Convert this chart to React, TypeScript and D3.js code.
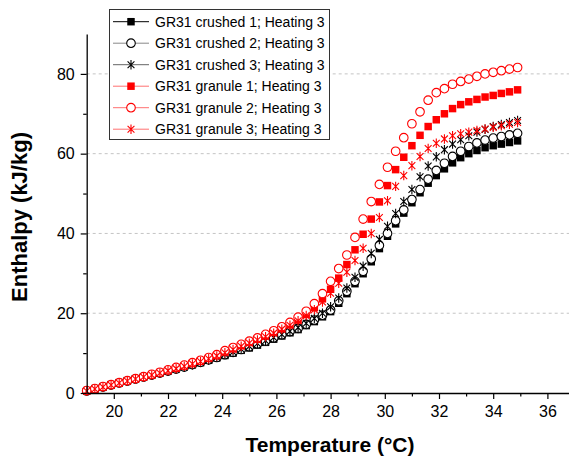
import React, { useEffect, useRef } from "react";
import * as d3 from "d3";

// temperature grid (°C), shared by all six runs
const temps = [
  19.0, 19.3, 19.6, 19.9, 20.2, 20.5, 20.8, 21.1, 21.4, 21.7,
  22.0, 22.3, 22.6, 22.9, 23.2, 23.5, 23.8, 24.1, 24.4, 24.7,
  25.0, 25.3, 25.6, 25.9, 26.2, 26.5, 26.8, 27.1, 27.4, 27.7,
  28.0, 28.3, 28.6, 28.9, 29.2, 29.5, 29.8, 30.1, 30.4, 30.7,
  31.0, 31.3, 31.6, 31.9, 32.2, 32.5, 32.8, 33.1, 33.4, 33.7,
  34.0, 34.3, 34.6, 34.9,
];

// enthalpy (kJ/kg)
const crushed1 = [
  0.6, 1.1, 1.6, 2.1, 2.6, 3.1, 3.6, 4.1, 4.6, 5.1,
  5.6, 6.1, 6.6, 7.1, 7.6, 8.2, 8.8, 9.4, 10.0, 10.7,
  11.3, 12.0, 12.7, 13.5, 14.3, 15.1, 15.9, 16.9, 17.9, 19.1,
  20.4, 22.5, 24.9, 27.4, 29.9, 32.9, 36.2, 39.3, 42.4, 45.1,
  47.7, 50.2, 52.6, 54.5, 56.2, 57.7, 59.0, 60.0, 60.8, 61.5,
  62.0, 62.4, 62.8, 63.2,
];
const crushed2 = [
  0.5, 1.0, 1.5, 2.0, 2.5, 3.0, 3.5, 4.0, 4.5, 5.0,
  5.5, 6.0, 6.5, 7.1, 7.7, 8.3, 8.9, 9.6, 10.2, 10.9,
  11.6, 12.3, 13.0, 13.8, 14.6, 15.4, 16.2, 17.2, 18.3, 19.5,
  20.8, 23.1, 25.5, 28.0, 30.5, 33.6, 37.0, 40.0, 43.2, 45.9,
  48.5, 51.0, 53.6, 55.8, 57.6, 59.3, 60.6, 61.8, 62.7, 63.4,
  63.9, 64.3, 64.7, 65.1,
];
const crushed3 = [
  0.5, 1.0, 1.5, 2.0, 2.5, 3.0, 3.5, 4.0, 4.5, 5.0,
  5.5, 6.0, 6.6, 7.1, 7.7, 8.3, 9.0, 9.7, 10.3, 11.0,
  11.7, 12.4, 13.1, 13.9, 14.7, 15.5, 16.4, 17.5, 18.7, 20.0,
  21.6, 23.8, 26.3, 29.0, 31.8, 35.0, 38.5, 41.8, 45.0, 48.0,
  51.0, 54.2, 56.9, 59.2, 61.0, 62.4, 63.5, 64.5, 65.4, 66.1,
  66.8, 67.3, 67.8, 68.3,
];
const granule1 = [
  0.5, 1.0, 1.5, 2.0, 2.5, 3.0, 3.5, 4.0, 4.5, 5.1,
  5.6, 6.2, 6.8, 7.4, 8.0, 8.7, 9.4, 10.3, 11.1, 11.9,
  12.7, 13.5, 14.3, 15.2, 16.1, 17.1, 18.3, 19.7, 21.4, 23.6,
  26.0, 28.8, 32.2, 35.9, 39.8, 43.6, 47.9, 52.0, 56.0, 59.1,
  62.0, 64.6, 66.8, 68.5, 70.0, 71.3, 72.3, 73.0, 73.6, 74.2,
  74.6, 75.1, 75.5, 76.0,
];
const granule2 = [
  0.6, 1.1, 1.6, 2.1, 2.6, 3.1, 3.6, 4.1, 4.7, 5.2,
  5.8, 6.4, 7.0, 7.6, 8.2, 8.9, 9.6, 10.6, 11.4, 12.2,
  13.0, 13.8, 14.7, 15.6, 16.6, 17.7, 19.0, 20.5, 22.4, 24.9,
  28.0, 31.2, 34.6, 39.0, 43.6, 48.0, 52.3, 56.6, 60.6, 64.0,
  67.5, 70.5, 73.4, 75.3, 76.3, 77.4, 78.1, 78.7, 79.4, 80.0,
  80.4, 80.8, 81.2, 81.6,
];
const granule3 = [
  0.5, 1.0, 1.5, 2.0, 2.5, 3.0, 3.5, 4.0, 4.5, 5.0,
  5.6, 6.1, 6.7, 7.3, 7.9, 8.6, 9.3, 10.1, 10.9, 11.7,
  12.5, 13.3, 14.1, 15.0, 16.0, 17.0, 18.1, 19.4, 20.9, 22.8,
  25.0, 27.5, 30.3, 33.2, 36.3, 40.0, 44.0, 48.2, 51.8, 54.5,
  57.0, 59.3, 61.3, 62.6, 63.7, 64.5, 65.0, 65.4, 65.8, 66.2,
  66.6, 67.0, 67.4, 67.8,
];

const seriesNames = [
  "GR31 crushed 1; Heating 3",
  "GR31 crushed 2; Heating 3",
  "GR31 crushed 3; Heating 3",
  "GR31 granule 1; Heating 3",
  "GR31 granule 2; Heating 3",
  "GR31 granule 3; Heating 3",
];

const xMajorTicks = [20, 22, 24, 26, 28, 30, 32, 34, 36];
const xMinorTicks = [21, 23, 25, 27, 29, 31, 33, 35, 37];
const yMajorTicks = [0, 20, 40, 60, 80];
const yMinorTicks = [10, 30, 50, 70];

const FONT = "Arial, 'Liberation Sans', Helvetica, sans-serif";

// asterisk marker: vertical bar plus an X
const starSymbol = {
  draw(context: any, size: number) {
    const r = Math.sqrt(size) / 2;
    const d = r * 0.72;
    context.moveTo(0, -r);
    context.lineTo(0, r);
    context.moveTo(-d, -d);
    context.lineTo(d, d);
    context.moveTo(-d, d);
    context.lineTo(d, -d);
  },
};

function App() {
  const ref = useRef<SVGSVGElement>(null);

  useEffect(() => {
    const svg = d3.select(ref.current);
    svg.selectAll("*").remove();

    const width = 569;
    const height = 460;

    let x = d3.scaleLinear().domain([19, 37]).range([86.7, 574.5]);
    let y = d3.scaleLinear().domain([0, 90]).range([393, 34]);

    svg.append("rect").attr("width", width).attr("height", height).attr("fill", "white");

    // dashed grid
    svg.append("g")
      .selectAll("line")
      .data(yMajorTicks.filter((d) => d > 0))
      .enter()
      .append("line")
      .attr("x1", x(19))
      .attr("x2", width)
      .attr("y1", (d) => y(d))
      .attr("y2", (d) => y(d))
      .attr("stroke", "#c4c4c4")
      .attr("stroke-width", 1)
      .attr("stroke-dasharray", "3,3");

    const series = [
      { name: seriesNames[0], values: crushed1, color: "#000000", shape: "square", legendLine: "#000000" },
      { name: seriesNames[1], values: crushed2, color: "#000000", shape: "circle", legendLine: "#888888" },
      { name: seriesNames[2], values: crushed3, color: "#000000", shape: "star", legendLine: "#666666" },
      { name: seriesNames[3], values: granule1, color: "#ff0000", shape: "square", legendLine: "#ff7070" },
      { name: seriesNames[4], values: granule2, color: "#ff0000", shape: "circle", legendLine: "#ff7070" },
      { name: seriesNames[5], values: granule3, color: "#ff0000", shape: "star", legendLine: "#ff7070" },
    ];

    const symbolFor = (shape: string) => {
      if (shape === "square") return d3.symbol().type(d3.symbolSquare).size(56)();
      if (shape === "circle") return d3.symbol().type(d3.symbolCircle).size(58)();
      return d3.symbol().type(starSymbol as any).size(90)();
    };

    const styleMarker = (sel: any, s: any) => {
      if (s.shape === "square") {
        sel.attr("fill", s.color).attr("stroke", "none");
      } else if (s.shape === "circle") {
        sel.attr("fill", "white").attr("stroke", s.color).attr("stroke-width", 1.1);
      } else {
        sel.attr("fill", "none").attr("stroke", s.color).attr("stroke-width", 1.1);
      }
    };

    // markers
    series.forEach((s) => {
      const pts = temps.map((t, i) => ({ t: t, h: s.values[i] }));
      const g = svg.append("g");
      const marks = g.selectAll("path")
        .data(pts)
        .enter()
        .append("path")
        .attr("d", symbolFor(s.shape))
        .attr("transform", (d) => `translate(${x(d.t)},${y(d.h)})`);
      styleMarker(marks, s);
    });

    // axes
    const styleAxis = (g: any) => {
      g.attr("font-family", FONT).attr("font-size", 16);
      g.selectAll("path.domain").attr("stroke", "#000").attr("stroke-width", 1.3);
      g.selectAll(".tick line").attr("stroke", "#000").attr("stroke-width", 1.2);
      g.selectAll(".tick text").attr("fill", "#000");
    };

    let xAxis = d3.axisBottom(x).tickValues(xMajorTicks).tickSize(6).tickSizeOuter(0).tickPadding(7)
      .tickFormat(d3.format("d"));
    let xMinor = d3.axisBottom(x).tickValues(xMinorTicks).tickSize(3.5).tickSizeOuter(0)
      .tickFormat(() => "");
    let yAxis = d3.axisLeft(y).tickValues(yMajorTicks).tickSize(6).tickSizeOuter(0).tickPadding(6)
      .tickFormat(d3.format("d"));
    let yMinor = d3.axisLeft(y).tickValues(yMinorTicks).tickSize(3.5).tickSizeOuter(0)
      .tickFormat(() => "");

    svg.append("g").attr("transform", `translate(0,${y(0)})`).call(xMinor).call(styleAxis)
      .select(".domain").remove();
    svg.append("g").attr("transform", `translate(0,${y(0)})`).call(xAxis).call(styleAxis);
    svg.append("g").attr("transform", `translate(${x(19)},0)`).call(yMinor).call(styleAxis)
      .select(".domain").remove();
    svg.append("g").attr("transform", `translate(${x(19)},0)`).call(yAxis).call(styleAxis);

    // axis titles
    svg.append("text")
      .attr("x", 330)
      .attr("y", 452)
      .attr("text-anchor", "middle")
      .attr("font-family", FONT)
      .attr("font-size", 21)
      .attr("font-weight", "bold")
      .text("Temperature (°C)");

    svg.append("text")
      .attr("transform", "rotate(-90)")
      .attr("x", -217)
      .attr("y", 27)
      .attr("text-anchor", "middle")
      .attr("font-family", FONT)
      .attr("font-size", 22)
      .attr("font-weight", "bold")
      .text("Enthalpy (kJ/kg)");

    // legend
    const legend = svg.append("g");
    legend.append("rect")
      .attr("x", 109.5)
      .attr("y", 9.5)
      .attr("width", 220)
      .attr("height", 130)
      .attr("fill", "white")
      .attr("stroke", "#333")
      .attr("stroke-width", 1);

    series.forEach((s, i) => {
      const cy = 21.7 + i * 21.5;
      legend.append("line")
        .attr("x1", 113).attr("x2", 149)
        .attr("y1", cy).attr("y2", cy)
        .attr("stroke", s.legendLine)
        .attr("stroke-width", 1);
      const m = legend.append("path")
        .attr("d", symbolFor(s.shape))
        .attr("transform", `translate(131,${cy})`);
      styleMarker(m, s);
      legend.append("text")
        .attr("x", 155)
        .attr("y", cy)
        .attr("dy", "0.36em")
        .attr("font-family", FONT)
        .attr("font-size", 14)
        .attr("fill", "#000")
        .text(s.name);
    });
  }, []);

  return (
    <svg
      ref={ref}
      width={569}
      height={460}
      style={{ position: "absolute", left: 0, top: 0 }}
    />
  );
}

export default App;
